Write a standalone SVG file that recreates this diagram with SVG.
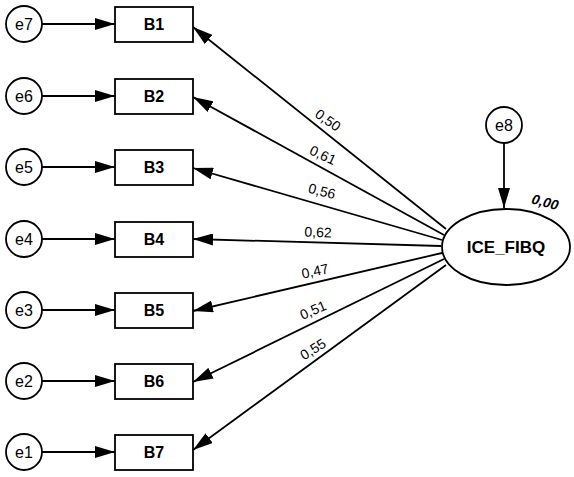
<svg xmlns="http://www.w3.org/2000/svg" width="574" height="477" viewBox="0 0 574 477">
<style>
.c{fill:#fff;stroke:#000;stroke-width:1.8}
.r{fill:#fff;stroke:#000;stroke-width:1.8}
.e{font-family:"Liberation Sans",Arial,sans-serif;font-size:16px;text-anchor:middle}
.b{font-family:"Liberation Sans",Arial,sans-serif;font-size:16px;font-weight:bold;text-anchor:middle}
.l{font-family:"Liberation Sans",Arial,sans-serif;font-size:14px;text-anchor:middle}
.ln{stroke:#000;stroke-width:1.8;fill:none;marker-end:url(#ah)}
</style>
<defs>
<marker id="ah" viewBox="0 0 20 12" refX="20" refY="6" markerWidth="20" markerHeight="12" markerUnits="userSpaceOnUse" orient="auto">
<path d="M0,0 L20,6 L0,12 Z" fill="#000"/>
</marker>
</defs>
<g id="connectors">
<line class="ln" x1="42" y1="24" x2="115" y2="24"/>
<line class="ln" x1="42" y1="96" x2="115" y2="96"/>
<line class="ln" x1="42" y1="167" x2="115" y2="167"/>
<line class="ln" x1="42" y1="239" x2="115" y2="239"/>
<line class="ln" x1="42" y1="310" x2="115" y2="310"/>
<line class="ln" x1="42" y1="381" x2="115" y2="381"/>
<line class="ln" x1="42" y1="452" x2="115" y2="452"/>
<line class="ln" x1="504" y1="143" x2="504" y2="208"/>
<line class="ln" x1="446" y1="229" x2="193" y2="27"/>
<line class="ln" x1="444" y1="235" x2="193" y2="97"/>
<line class="ln" x1="442" y1="240" x2="193" y2="168"/>
<line class="ln" x1="441" y1="246" x2="193" y2="239"/>
<line class="ln" x1="442" y1="253" x2="193" y2="311"/>
<line class="ln" x1="444" y1="259" x2="193" y2="382"/>
<line class="ln" x1="446" y1="265" x2="193" y2="450"/>
<text class="l" transform="translate(328,120) rotate(35)" y="5">0,50</text>
<text class="l" transform="translate(323,155) rotate(25)" y="5">0,61</text>
<text class="l" transform="translate(322,191) rotate(14)" y="5">0,56</text>
<text class="l" transform="translate(318,232) rotate(2)" y="5">0,62</text>
<text class="l" transform="translate(315,271) rotate(-12)" y="5">0,47</text>
<text class="l" transform="translate(313,310) rotate(-23)" y="5">0,51</text>
<text class="l" transform="translate(313,349) rotate(-32)" y="5">0,55</text>
</g>
<g id="e7"><circle class="c" cx="24" cy="24" r="18"/><text class="e" x="24" y="30">e7</text></g>
<g id="e6"><circle class="c" cx="24" cy="96" r="18"/><text class="e" x="24" y="102">e6</text></g>
<g id="e5"><circle class="c" cx="24" cy="167" r="18"/><text class="e" x="24" y="173">e5</text></g>
<g id="e4"><circle class="c" cx="24" cy="239" r="18"/><text class="e" x="24" y="245">e4</text></g>
<g id="e3"><circle class="c" cx="24" cy="310" r="18"/><text class="e" x="24" y="316">e3</text></g>
<g id="e2"><circle class="c" cx="24" cy="381" r="18"/><text class="e" x="24" y="387">e2</text></g>
<g id="e1"><circle class="c" cx="24" cy="452" r="18"/><text class="e" x="24" y="458">e1</text></g>
<g id="B1"><rect class="r" x="115" y="7" width="78" height="35"/><text class="b" x="154" y="30">B1</text></g>
<g id="B2"><rect class="r" x="115" y="79" width="78" height="35"/><text class="b" x="154" y="102">B2</text></g>
<g id="B3"><rect class="r" x="115" y="150" width="78" height="35"/><text class="b" x="154" y="173">B3</text></g>
<g id="B4"><rect class="r" x="115" y="222" width="78" height="35"/><text class="b" x="154" y="245">B4</text></g>
<g id="B5"><rect class="r" x="115" y="293" width="78" height="35"/><text class="b" x="154" y="316">B5</text></g>
<g id="B6"><rect class="r" x="115" y="364" width="78" height="35"/><text class="b" x="154" y="387">B6</text></g>
<g id="B7"><rect class="r" x="115" y="435" width="78" height="35"/><text class="b" x="154" y="458">B7</text></g>
<g id="e8"><circle class="c" cx="504" cy="125" r="18"/><text class="e" x="504" y="131">e8</text></g>
<g id="ICE_FIBQ"><ellipse class="c" cx="506" cy="247" rx="64" ry="38"/><text class="b" x="506" y="253" style="font-size:17px">ICE_FIBQ</text>
<text class="l" transform="translate(545,203) rotate(15)" y="4" style="font-weight:bold;font-style:italic">0,00</text></g>
</svg>
